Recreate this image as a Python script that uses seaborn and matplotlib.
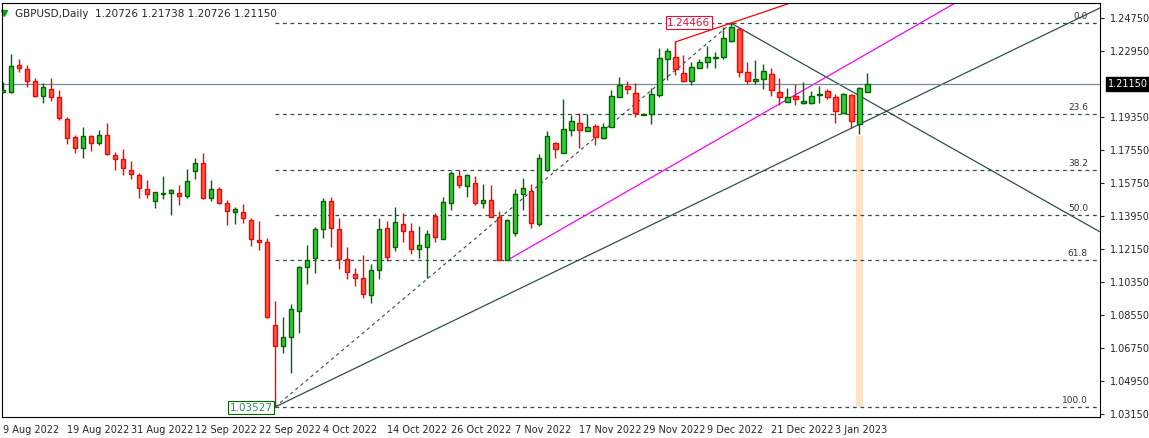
import numpy as np
import pandas as pd
import matplotlib
matplotlib.use("Agg")
import matplotlib.pyplot as plt
import seaborn as sns

symbol_title = "GBPUSD,Daily  1.20726 1.21738 1.20726 1.21150"

opens = [1.2073,1.2073,1.2219,1.2195,1.2133,1.2051,1.2086,1.2046,1.1922,1.1824,
         1.1764,1.1830,1.1791,1.1835,1.1726,1.1704,1.1646,1.1619,1.1541,1.1475,
         1.1513,1.1519,1.1519,1.1502,1.1639,1.1684,1.1491,1.1541,1.1464,1.1415,
         1.1415,1.1371,1.1264,1.1253,1.0799,1.0686,1.0733,1.0879,1.1115,1.1164,
         1.1322,1.1475,1.1322,1.1159,1.1077,1.1055,1.0962,1.1101,1.1328,1.1228,
         1.1350,1.1311,1.1213,1.1224,1.1395,1.1271,1.1464,1.1613,1.1559,1.1573,
         1.1466,1.1481,1.1388,1.1153,1.1300,1.1513,1.1531,1.1350,1.1646,1.1795,
         1.1741,1.1864,1.1904,1.1859,1.1888,1.1819,1.1882,1.2046,1.2106,1.2064,
         1.1944,1.1950,1.2053,1.2250,1.2261,1.2173,1.2130,1.2200,1.2233,1.2255,
         1.2260,1.2351,1.2413,1.2179,1.2130,1.2140,1.2168,1.2071,1.2019,1.2050,
         1.2009,1.2009,1.2053,1.2077,1.2042,1.1959,1.2053,1.1897,1.20726]
highs = [1.2128,1.2279,1.2251,1.2219,1.2146,1.2122,1.2148,1.2082,1.1933,1.1837,
         1.1879,1.1837,1.1864,1.1902,1.1744,1.1760,1.1695,1.1628,1.1591,1.1524,
         1.1613,1.1541,1.1564,1.1651,1.1713,1.1737,1.1591,1.1553,1.1482,1.1442,
         1.1461,1.1382,1.1368,1.1275,1.0931,1.0841,1.0915,1.1122,1.1237,1.1337,
         1.1493,1.1500,1.1382,1.1224,1.1110,1.1182,1.1133,1.1382,1.1368,1.1444,
         1.1410,1.1357,1.1341,1.1319,1.1413,1.1499,1.1642,1.1646,1.1622,1.1613,
         1.1570,1.1562,1.1422,1.1380,1.1542,1.1600,1.1570,1.1733,1.1859,1.1800,
         1.2033,1.1946,1.1959,1.1951,1.1897,1.1900,1.2082,1.2151,1.2130,1.2119,
         1.1955,1.2091,1.2310,1.2310,1.2346,1.2273,1.2233,1.2250,1.2322,1.2291,
         1.2428,1.24466,1.2428,1.2237,1.2246,1.2222,1.2200,1.2146,1.2091,1.2113,
         1.2128,1.2079,1.2106,1.2086,1.2059,1.2068,1.2059,1.2097,1.21738]
lows = [1.2064,1.2064,1.2182,1.2100,1.2046,1.2009,1.2024,1.1919,1.1788,1.1741,
        1.1713,1.1751,1.1784,1.1730,1.1646,1.1619,1.1599,1.1495,1.1495,1.1441,
        1.1490,1.1402,1.1457,1.1495,1.1599,1.1490,1.1479,1.1461,1.1346,1.1353,
        1.1355,1.1233,1.1210,1.0837,1.03527,1.0646,1.0537,1.0759,1.1022,1.1086,
        1.1273,1.1224,1.1108,1.1053,1.1015,1.0950,1.0922,1.1053,1.1151,1.1206,
        1.1255,1.1186,1.1168,1.1059,1.1255,1.1271,1.1430,1.1550,1.1500,1.1455,
        1.1437,1.1388,1.1155,1.1153,1.1288,1.1430,1.1331,1.1340,1.1642,1.1710,
        1.1737,1.1831,1.1764,1.1859,1.1781,1.1813,1.1879,1.2042,1.2059,1.1937,
        1.1944,1.1897,1.2046,1.2137,1.2164,1.2128,1.2108,1.2200,1.2200,1.2204,
        1.2250,1.2346,1.2155,1.2115,1.2115,1.2086,1.2051,1.2000,1.2015,1.2000,
        1.2006,1.2006,1.2009,1.2033,1.1900,1.1955,1.1873,1.1840,1.20726]
closes = [1.2082,1.2213,1.2200,1.2133,1.2051,1.2097,1.2046,1.1931,1.1822,1.1764,
          1.1830,1.1791,1.1835,1.1735,1.1704,1.1655,1.1622,1.1546,1.1513,1.1524,
          1.1519,1.1535,1.1502,1.1584,1.1684,1.1491,1.1541,1.1464,1.1421,1.1431,
          1.1382,1.1268,1.1251,1.0842,1.0686,1.0733,1.0886,1.1115,1.1155,1.1322,
          1.1475,1.1328,1.1159,1.1088,1.1055,1.0968,1.1101,1.1322,1.1173,1.1361,
          1.1315,1.1217,1.1237,1.1295,1.1279,1.1470,1.1628,1.1562,1.1617,1.1464,
          1.1481,1.1388,1.1157,1.1371,1.1513,1.1546,1.1359,1.1710,1.1831,1.1759,
          1.1868,1.1915,1.1864,1.1882,1.1828,1.1882,1.2051,1.2111,1.2086,1.1959,
          1.1951,1.2059,1.2255,1.2295,1.2195,1.2133,1.2210,1.2237,1.2264,1.2264,
          1.2364,1.2428,1.2179,1.2133,1.2144,1.2184,1.2082,1.2042,1.2042,1.2031,
          1.2022,1.2051,1.2062,1.2046,1.1968,1.2059,1.1913,1.2091,1.21150]

holidays = ["2023-01-02"]
dates = pd.bdate_range("2022-08-09", periods=115)
dates = dates[~dates.isin(pd.to_datetime(holidays))][:len(opens)]

price_ticks = [1.03150,1.04950,1.06750,1.08550,1.10350,1.12150,1.13950,
               1.15750,1.17550,1.19350,1.22950,1.24750]
fib_pcts = ["0.0","23.6","38.2","50.0","61.8","100.0"]
fib_vals = [0.0,0.236,0.382,0.5,0.618,1.0]
swing_low, swing_high = 1.03527, 1.24466
last_price = 1.21150

df = pd.DataFrame({"i": np.arange(len(opens)), "o": opens, "h": highs, "l": lows, "c": closes})

sns.set_style("white")
plt.rcParams["font.family"] = ["DejaVu Sans"]
fig = plt.figure(figsize=(11.49, 4.38), dpi=100)
ax = fig.add_axes([2/1149, 21/438, 1098/1149, 414/438])

x0, x1 = -0.125, 137.1
ax.set_xlim(x0, x1)
ax.set_ylim(1.0298, 1.2557)

ax.axvspan(107 - 0.45, 107 + 0.45, ymin=(1.0355-1.0298)/(1.2557-1.0298),
           ymax=(1.1831-1.0298)/(1.2557-1.0298), color="#FDE3C6", zorder=0, lw=0)

i_low, i_high = 34, 91
rng = swing_high - swing_low
for p, v in zip(fib_pcts, fib_vals):
    lvl = swing_high - v * rng
    ax.plot([i_low, x1], [lvl, lvl], ls=(0, (3, 3)), color="#2F4F4F", lw=0.9, zorder=1)
    ax.text(135.6, lvl + 0.0012, p, ha="right", va="bottom", fontsize=6.5, color="#333333")
ax.plot([i_low, i_high], [swing_low, swing_high], ls=(0, (3, 3)), color="#2F4F4F", lw=0.8, zorder=1)

tl = pd.DataFrame({"x": [i_low, x1], "y": [swing_low, 1.2530]})
sns.lineplot(data=tl, x="x", y="y", color="#2F4F4F", lw=0.9, ax=ax, zorder=1)
tl2 = pd.DataFrame({"x": [i_high, x1], "y": [swing_high, 1.1308]})
sns.lineplot(data=tl2, x="x", y="y", color="#2F4F4F", lw=0.9, ax=ax, zorder=1)
mg = pd.DataFrame({"x": [63, 119], "y": [1.1153, 1.2557]})
sns.lineplot(data=mg, x="x", y="y", color="#FF00FF", lw=0.9, ax=ax, zorder=1)
rd = pd.DataFrame({"x": [84, 98.4], "y": [1.2344, 1.2557]})
sns.lineplot(data=rd, x="x", y="y", color="red", lw=0.9, ax=ax, zorder=1)
ax.plot([84, 84], [1.2344, 1.2270], color="red", lw=0.9, zorder=1)

ax.axhline(last_price, color="#778899", lw=0.9, zorder=1)

up = df["c"] >= df["o"]
for mask, fill, edge in [(up, "#32CD32", "#006400"), (~up, "#FF5540", "#FF0000")]:
    d = df[mask]
    ax.vlines(d["i"], d["l"], d["h"], color=edge, lw=1, zorder=2)
    bot = np.minimum(d["o"], d["c"])
    hgt = np.maximum(np.abs(d["c"] - d["o"]), 0.0004)
    ax.bar(d["i"], hgt, bottom=bot, width=0.6, color=fill, edgecolor=edge, lw=1, zorder=3)

ax.text(i_high - 2.6, swing_high + 0.0003, "1.24466", ha="right", va="center", fontsize=7.5,
        color="#DC143C", bbox=dict(boxstyle="square,pad=0.15", fc="white", ec="#DC143C", lw=0.8))
ax.text(i_low - 0.3, swing_low - 0.0003, "1.03527", ha="right", va="center", fontsize=7.5,
        color="#2E8B57", bbox=dict(boxstyle="square,pad=0.15", fc="white", ec="#006400", lw=0.8))

ax.text(0.012, 0.985, symbol_title, transform=ax.transAxes, ha="left", va="top", fontsize=7.5)
ax.plot([0.002], [0.977], marker="v", ms=5, color="#00AA00", transform=ax.transAxes, clip_on=False)

for s in ax.spines.values():
    s.set_color("black"); s.set_linewidth(0.8)
ax.yaxis.tick_right()
ax.set_yticks(price_ticks)
ax.set_yticklabels([f"{t:.5f}" for t in price_ticks], fontsize=7)
ax.tick_params(axis="y", length=3, pad=4, direction="out")
ax.text(x1 + 1.0, last_price, f"{last_price:.5f}", ha="left", va="center", fontsize=7, color="white",
        bbox=dict(boxstyle="square,pad=0.25", fc="black", ec="black"), clip_on=False)
tick_idx = list(range(0, len(dates), 8))
ax.set_xticks(tick_idx)
ax.set_xticklabels([f"{dates[i].day} {dates[i].strftime('%b %Y')}" for i in tick_idx],
                   fontsize=7, ha="left")
ax.tick_params(axis="x", length=4, pad=2, direction="out")
ax.set_xlabel(""); ax.set_ylabel("")
if ax.get_legend(): ax.get_legend().remove()

fig.savefig("out.png", dpi=100)
